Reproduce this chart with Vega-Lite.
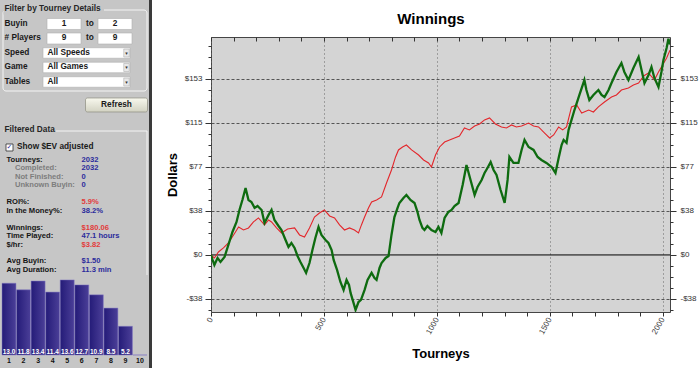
{
"$schema":"https://vega.github.io/schema/vega-lite/v6.json",
"padding":0,
"background":"#ffffff",
"bounds":"full",
"spacing":0,
"config":{"font":"Liberation Sans","concat":{"spacing":0},"axis":{"labelFont":"Liberation Sans","titleFont":"Liberation Sans"}},
"datasets":{
"filters":[
{"row":1,"label":"Buyin","kind":"range","low":"1","high":"2"},
{"row":2,"label":"# Players","kind":"range","low":"9","high":"9"},
{"row":3,"label":"Speed","kind":"choice","choice":"All Speeds"},
{"row":4,"label":"Game","kind":"choice","choice":"All Games"},
{"row":5,"label":"Tables","kind":"choice","choice":"All"}],
"stats":[
{"row":0,"label":"Tourneys:","value":"2032","level":1,"kind":"count"},
{"row":1,"label":"Completed:","value":"2032","level":2,"kind":"count"},
{"row":2,"label":"Not Finished:","value":"0","level":2,"kind":"count"},
{"row":3,"label":"Unknown Buyin:","value":"0","level":2,"kind":"count"},
{"row":5,"label":"ROI%:","value":"5.9%","level":1,"kind":"result"},
{"row":6,"label":"In the Money%:","value":"38.2%","level":1,"kind":"count"},
{"row":8,"label":"Winnings:","value":"$180.06","level":1,"kind":"result"},
{"row":9,"label":"Time Played:","value":"47.1 hours","level":1,"kind":"count"},
{"row":10,"label":"$/hr:","value":"$3.82","level":1,"kind":"result"},
{"row":12,"label":"Avg Buyin:","value":"$1.50","level":1,"kind":"count"},
{"row":13,"label":"Avg Duration:","value":"11.3 min","level":1,"kind":"count"}],
"finish":[
{"pos":1,"pct":13.0},{"pos":2,"pct":11.8},{"pos":3,"pct":13.4},{"pos":4,"pct":11.4},{"pos":5,"pct":13.6},
{"pos":6,"pct":12.7},{"pos":7,"pct":10.9},{"pos":8,"pct":8.5},{"pos":9,"pct":5.2},{"pos":10,"pct":0}],
"winnings":[
{"series":"EV","tourney":0,"dollars":0},{"series":"EV","tourney":15,"dollars":-2.6},{"series":"EV","tourney":33,"dollars":2.6},{"series":"EV","tourney":55,"dollars":6.1},{"series":"EV","tourney":77,"dollars":10.4},{"series":"EV","tourney":100,"dollars":17.4},{"series":"EV","tourney":122,"dollars":24.3},{"series":"EV","tourney":144,"dollars":21.7},{"series":"EV","tourney":166,"dollars":23.5},{"series":"EV","tourney":188,"dollars":28.7},{"series":"EV","tourney":210,"dollars":32.2},{"series":"EV","tourney":237,"dollars":26.1},{"series":"EV","tourney":255,"dollars":30.4},{"series":"EV","tourney":268,"dollars":28.7},{"series":"EV","tourney":290,"dollars":23.5},{"series":"EV","tourney":312,"dollars":19.1},{"series":"EV","tourney":339,"dollars":22.6},{"series":"EV","tourney":370,"dollars":23.5},{"series":"EV","tourney":392,"dollars":17.4},{"series":"EV","tourney":414,"dollars":15.6},{"series":"EV","tourney":436,"dollars":23.5},{"series":"EV","tourney":458,"dollars":33},{"series":"EV","tourney":480,"dollars":36.5},{"series":"EV","tourney":502,"dollars":39.1},{"series":"EV","tourney":525,"dollars":33.9},{"series":"EV","tourney":547,"dollars":32.2},{"series":"EV","tourney":569,"dollars":26.1},{"series":"EV","tourney":591,"dollars":21.7},{"series":"EV","tourney":613,"dollars":23.5},{"series":"EV","tourney":635,"dollars":21.7},{"series":"EV","tourney":653,"dollars":19.1},{"series":"EV","tourney":666,"dollars":26.1},{"series":"EV","tourney":680,"dollars":33},{"series":"EV","tourney":697,"dollars":40.9},{"series":"EV","tourney":711,"dollars":46.1},{"series":"EV","tourney":733,"dollars":47.8},{"series":"EV","tourney":755,"dollars":50.4},{"series":"EV","tourney":777,"dollars":62.6},{"series":"EV","tourney":799,"dollars":73.9},{"series":"EV","tourney":817,"dollars":85.2},{"series":"EV","tourney":830,"dollars":91.3},{"series":"EV","tourney":848,"dollars":93.9},{"series":"EV","tourney":865,"dollars":95.6},{"series":"EV","tourney":888,"dollars":91.3},{"series":"EV","tourney":919,"dollars":86.9},{"series":"EV","tourney":941,"dollars":82.6},{"series":"EV","tourney":963,"dollars":80},{"series":"EV","tourney":976,"dollars":76.5},{"series":"EV","tourney":994,"dollars":86.9},{"series":"EV","tourney":1012,"dollars":93.9},{"series":"EV","tourney":1034,"dollars":98.2},{"series":"EV","tourney":1056,"dollars":100},{"series":"EV","tourney":1078,"dollars":101.7},{"series":"EV","tourney":1100,"dollars":103.4},{"series":"EV","tourney":1122,"dollars":110.4},{"series":"EV","tourney":1144,"dollars":108.7},{"series":"EV","tourney":1167,"dollars":112.1},{"series":"EV","tourney":1189,"dollars":113.9},{"series":"EV","tourney":1211,"dollars":117.4},{"series":"EV","tourney":1233,"dollars":119.1},{"series":"EV","tourney":1259,"dollars":113.9},{"series":"EV","tourney":1286,"dollars":111.3},{"series":"EV","tourney":1308,"dollars":110.4},{"series":"EV","tourney":1330,"dollars":113},{"series":"EV","tourney":1352,"dollars":111.3},{"series":"EV","tourney":1375,"dollars":112.1},{"series":"EV","tourney":1406,"dollars":114.7},{"series":"EV","tourney":1428,"dollars":112.1},{"series":"EV","tourney":1450,"dollars":111.3},{"series":"EV","tourney":1477,"dollars":106},{"series":"EV","tourney":1499,"dollars":101.7},{"series":"EV","tourney":1517,"dollars":104.3},{"series":"EV","tourney":1539,"dollars":111.3},{"series":"EV","tourney":1557,"dollars":108.7},{"series":"EV","tourney":1574,"dollars":111.3},{"series":"EV","tourney":1596,"dollars":128.7},{"series":"EV","tourney":1619,"dollars":130.4},{"series":"EV","tourney":1641,"dollars":123.4},{"series":"EV","tourney":1672,"dollars":126},{"series":"EV","tourney":1693,"dollars":124.3},{"series":"EV","tourney":1715,"dollars":128.7},{"series":"EV","tourney":1742,"dollars":133},{"series":"EV","tourney":1773,"dollars":137.3},{"series":"EV","tourney":1795,"dollars":139.1},{"series":"EV","tourney":1817,"dollars":143.4},{"series":"EV","tourney":1848,"dollars":145.2},{"series":"EV","tourney":1870,"dollars":147.8},{"series":"EV","tourney":1893,"dollars":149.5},{"series":"EV","tourney":1915,"dollars":155.6},{"series":"EV","tourney":1937,"dollars":158.2},{"series":"EV","tourney":1963,"dollars":152.1},{"series":"EV","tourney":1981,"dollars":159.1},{"series":"EV","tourney":1994,"dollars":163.4},{"series":"EV","tourney":2017,"dollars":171.3},{"series":"EV","tourney":2032,"dollars":178},
{"series":"Actual","tourney":0,"dollars":0},{"series":"Actual","tourney":7,"dollars":-4.3},{"series":"Actual","tourney":15,"dollars":-8.7},{"series":"Actual","tourney":29,"dollars":-2.6},{"series":"Actual","tourney":42,"dollars":-6.1},{"series":"Actual","tourney":60,"dollars":-1.7},{"series":"Actual","tourney":77,"dollars":8.7},{"series":"Actual","tourney":95,"dollars":20},{"series":"Actual","tourney":113,"dollars":28.7},{"series":"Actual","tourney":126,"dollars":39.1},{"series":"Actual","tourney":139,"dollars":47.8},{"series":"Actual","tourney":153,"dollars":58.2},{"series":"Actual","tourney":166,"dollars":47.8},{"series":"Actual","tourney":179,"dollars":46.1},{"series":"Actual","tourney":193,"dollars":40.9},{"series":"Actual","tourney":206,"dollars":42.6},{"series":"Actual","tourney":224,"dollars":39.1},{"series":"Actual","tourney":237,"dollars":27.8},{"series":"Actual","tourney":255,"dollars":34.8},{"series":"Actual","tourney":268,"dollars":39.1},{"series":"Actual","tourney":281,"dollars":30.4},{"series":"Actual","tourney":299,"dollars":25.2},{"series":"Actual","tourney":312,"dollars":21.7},{"series":"Actual","tourney":330,"dollars":13},{"series":"Actual","tourney":343,"dollars":7},{"series":"Actual","tourney":356,"dollars":10.4},{"series":"Actual","tourney":370,"dollars":6.1},{"series":"Actual","tourney":383,"dollars":-0.9},{"series":"Actual","tourney":396,"dollars":-6.1},{"series":"Actual","tourney":410,"dollars":-11.3},{"series":"Actual","tourney":421,"dollars":-15.6},{"series":"Actual","tourney":436,"dollars":-7},{"series":"Actual","tourney":449,"dollars":4.3},{"series":"Actual","tourney":462,"dollars":14.8},{"series":"Actual","tourney":476,"dollars":24.3},{"series":"Actual","tourney":489,"dollars":17.4},{"series":"Actual","tourney":507,"dollars":13},{"series":"Actual","tourney":520,"dollars":10.4},{"series":"Actual","tourney":534,"dollars":4.3},{"series":"Actual","tourney":543,"dollars":-4.3},{"series":"Actual","tourney":558,"dollars":-13},{"series":"Actual","tourney":573,"dollars":-23.5},{"series":"Actual","tourney":587,"dollars":-30.4},{"series":"Actual","tourney":600,"dollars":-21.7},{"series":"Actual","tourney":611,"dollars":-26.1},{"series":"Actual","tourney":618,"dollars":-33},{"series":"Actual","tourney":631,"dollars":-41.7},{"series":"Actual","tourney":640,"dollars":-47.8},{"series":"Actual","tourney":653,"dollars":-40.9},{"series":"Actual","tourney":664,"dollars":-39.1},{"series":"Actual","tourney":680,"dollars":-30.4},{"series":"Actual","tourney":693,"dollars":-21.7},{"series":"Actual","tourney":711,"dollars":-15.6},{"series":"Actual","tourney":724,"dollars":-20},{"series":"Actual","tourney":733,"dollars":-21.7},{"series":"Actual","tourney":746,"dollars":-11.3},{"series":"Actual","tourney":755,"dollars":-7},{"series":"Actual","tourney":773,"dollars":-2.6},{"series":"Actual","tourney":786,"dollars":-0.9},{"series":"Actual","tourney":799,"dollars":17.4},{"series":"Actual","tourney":812,"dollars":33},{"series":"Actual","tourney":826,"dollars":40.9},{"series":"Actual","tourney":834,"dollars":45.2},{"series":"Actual","tourney":852,"dollars":49.6},{"series":"Actual","tourney":865,"dollars":52.2},{"series":"Actual","tourney":883,"dollars":47.8},{"series":"Actual","tourney":901,"dollars":45.2},{"series":"Actual","tourney":914,"dollars":37.4},{"series":"Actual","tourney":923,"dollars":30.4},{"series":"Actual","tourney":936,"dollars":23.5},{"series":"Actual","tourney":945,"dollars":21.7},{"series":"Actual","tourney":958,"dollars":25.2},{"series":"Actual","tourney":976,"dollars":21.7},{"series":"Actual","tourney":994,"dollars":20},{"series":"Actual","tourney":1007,"dollars":24.3},{"series":"Actual","tourney":1020,"dollars":19.1},{"series":"Actual","tourney":1034,"dollars":32.2},{"series":"Actual","tourney":1051,"dollars":37.4},{"series":"Actual","tourney":1065,"dollars":39.1},{"series":"Actual","tourney":1078,"dollars":42.6},{"series":"Actual","tourney":1096,"dollars":45.2},{"series":"Actual","tourney":1114,"dollars":60.9},{"series":"Actual","tourney":1131,"dollars":78.2},{"series":"Actual","tourney":1149,"dollars":65.2},{"series":"Actual","tourney":1167,"dollars":52.2},{"series":"Actual","tourney":1180,"dollars":59.1},{"series":"Actual","tourney":1198,"dollars":65.2},{"series":"Actual","tourney":1211,"dollars":71.3},{"series":"Actual","tourney":1224,"dollars":75.6},{"series":"Actual","tourney":1238,"dollars":80.8},{"series":"Actual","tourney":1251,"dollars":73.9},{"series":"Actual","tourney":1264,"dollars":69.5},{"series":"Actual","tourney":1282,"dollars":56.5},{"series":"Actual","tourney":1300,"dollars":45.2},{"series":"Actual","tourney":1313,"dollars":65.2},{"series":"Actual","tourney":1321,"dollars":85.2},{"series":"Actual","tourney":1339,"dollars":80},{"series":"Actual","tourney":1361,"dollars":80},{"series":"Actual","tourney":1375,"dollars":91.3},{"series":"Actual","tourney":1388,"dollars":100},{"series":"Actual","tourney":1406,"dollars":93.9},{"series":"Actual","tourney":1428,"dollars":91.3},{"series":"Actual","tourney":1446,"dollars":85.2},{"series":"Actual","tourney":1463,"dollars":82.6},{"series":"Actual","tourney":1485,"dollars":80},{"series":"Actual","tourney":1508,"dollars":76.5},{"series":"Actual","tourney":1525,"dollars":71.3},{"series":"Actual","tourney":1539,"dollars":84.3},{"series":"Actual","tourney":1552,"dollars":95.6},{"series":"Actual","tourney":1561,"dollars":100},{"series":"Actual","tourney":1574,"dollars":97.4},{"series":"Actual","tourney":1583,"dollars":108.7},{"series":"Actual","tourney":1596,"dollars":117.4},{"series":"Actual","tourney":1609,"dollars":126},{"series":"Actual","tourney":1631,"dollars":139.1},{"series":"Actual","tourney":1653,"dollars":152.1},{"series":"Actual","tourney":1662,"dollars":143.4},{"series":"Actual","tourney":1675,"dollars":134.7},{"series":"Actual","tourney":1693,"dollars":139.1},{"series":"Actual","tourney":1715,"dollars":143.4},{"series":"Actual","tourney":1729,"dollars":139.1},{"series":"Actual","tourney":1742,"dollars":137.3},{"series":"Actual","tourney":1760,"dollars":143.4},{"series":"Actual","tourney":1773,"dollars":149.5},{"series":"Actual","tourney":1795,"dollars":159.1},{"series":"Actual","tourney":1817,"dollars":166.9},{"series":"Actual","tourney":1830,"dollars":159.1},{"series":"Actual","tourney":1848,"dollars":152.1},{"series":"Actual","tourney":1870,"dollars":162.6},{"series":"Actual","tourney":1893,"dollars":172.1},{"series":"Actual","tourney":1906,"dollars":160.8},{"series":"Actual","tourney":1919,"dollars":149.5},{"series":"Actual","tourney":1937,"dollars":156.5},{"series":"Actual","tourney":1950,"dollars":163.4},{"series":"Actual","tourney":1963,"dollars":153.9},{"series":"Actual","tourney":1981,"dollars":146},{"series":"Actual","tourney":1994,"dollars":159.1},{"series":"Actual","tourney":2003,"dollars":169.5},{"series":"Actual","tourney":2017,"dollars":180},{"series":"Actual","tourney":2025,"dollars":188},{"series":"Actual","tourney":2032,"dollars":183}
]},
"hconcat":[
{"bounds":"flush","spacing":0,"vconcat":[
{"width":149,"height":117,"view":{"fill":"#c6c6c6","stroke":null},
"layer":[
{"data":{"values":[{}]},"mark":{"type":"rect","fillOpacity":0,"stroke":"#f4f4f4","strokeWidth":1,"cornerRadius":3},
"encoding":{"x":{"datum":3,"type":"quantitative","scale":{"domain":[0,149],"nice":false,"zero":false},"axis":null},"x2":{"datum":147},"y":{"datum":0.035,"type":"quantitative","scale":{"domain":[-0.655,7.414],"nice":false,"zero":false,"reverse":true},"axis":null},"y2":{"datum":5.621}}},
{"data":{"values":[{}]},"mark":{"type":"rect","color":"#c6c6c6"},
"encoding":{"x":{"datum":3.5,"type":"quantitative"},"x2":{"datum":104},"y":{"datum":-0.35,"type":"quantitative"},"y2":{"datum":0.35}}},
{"data":{"values":[{"t":"Filter by Tourney Details"}]},"mark":{"type":"text","align":"left","baseline":"middle","fontSize":8.3,"fontWeight":"bold","color":"#262626"},
"encoding":{"x":{"datum":4.5,"type":"quantitative"},"y":{"datum":0,"type":"quantitative"},"text":{"field":"t"}}},
{"data":{"name":"filters"},"mark":{"type":"text","align":"left","baseline":"middle","fontSize":8.3,"fontWeight":"bold","color":"#1a1a1a"},
"encoding":{"x":{"datum":4.5,"type":"quantitative"},"y":{"field":"row","type":"quantitative"},"text":{"field":"label"}}},
{"data":{"name":"filters"},"transform":[{"filter":"datum.kind==='range'"}],"mark":{"type":"tick","orient":"horizontal","size":34,"thickness":11,"color":"#ffffff","opacity":1,"stroke":"#b0b0b0","strokeWidth":0.6},
"encoding":{"x":{"datum":64,"type":"quantitative"},"y":{"field":"row","type":"quantitative"}}},
{"data":{"name":"filters"},"transform":[{"filter":"datum.kind==='range'"}],"mark":{"type":"tick","orient":"horizontal","size":34,"thickness":11,"color":"#ffffff","opacity":1,"stroke":"#b0b0b0","strokeWidth":0.6},
"encoding":{"x":{"datum":115,"type":"quantitative"},"y":{"field":"row","type":"quantitative"}}},
{"data":{"name":"filters"},"transform":[{"filter":"datum.kind==='range'"}],"mark":{"type":"text","align":"center","baseline":"middle","fontSize":8.3,"fontWeight":"bold","color":"#1a1a1a"},
"encoding":{"x":{"datum":64,"type":"quantitative"},"y":{"field":"row","type":"quantitative"},"text":{"field":"low"}}},
{"data":{"name":"filters"},"transform":[{"filter":"datum.kind==='range'"}],"mark":{"type":"text","align":"center","baseline":"middle","fontSize":8.3,"fontWeight":"bold","color":"#1a1a1a"},
"encoding":{"x":{"datum":115,"type":"quantitative"},"y":{"field":"row","type":"quantitative"},"text":{"field":"high"}}},
{"data":{"name":"filters"},"transform":[{"filter":"datum.kind==='range'"}],"mark":{"type":"text","align":"center","baseline":"middle","fontSize":8.3,"fontWeight":"bold","color":"#1a1a1a"},
"encoding":{"x":{"datum":90,"type":"quantitative"},"y":{"field":"row","type":"quantitative"},"text":{"value":"to"}}},
{"data":{"name":"filters"},"transform":[{"filter":"datum.kind==='choice'"}],"mark":{"type":"tick","orient":"horizontal","size":87,"thickness":10.5,"color":"#ffffff","opacity":1,"stroke":"#b0b0b0","strokeWidth":0.6},
"encoding":{"x":{"datum":86.5,"type":"quantitative"},"y":{"field":"row","type":"quantitative"}}},
{"data":{"name":"filters"},"transform":[{"filter":"datum.kind==='choice'"}],"mark":{"type":"tick","orient":"horizontal","size":5.5,"thickness":8,"color":"#e8e8e8","opacity":1,"stroke":"#a0a0a0","strokeWidth":0.5},
"encoding":{"x":{"datum":126.5,"type":"quantitative"},"y":{"field":"row","type":"quantitative"}}},
{"data":{"name":"filters"},"transform":[{"filter":"datum.kind==='choice'"}],"mark":{"type":"text","align":"center","baseline":"middle","font":"DejaVu Sans","fontSize":5,"color":"#333333"},
"encoding":{"x":{"datum":126.5,"type":"quantitative"},"y":{"field":"row","type":"quantitative"},"text":{"value":"▾"}}},
{"data":{"name":"filters"},"transform":[{"filter":"datum.kind==='choice'"}],"mark":{"type":"text","align":"left","baseline":"middle","fontSize":8.3,"fontWeight":"bold","color":"#1a1a1a"},
"encoding":{"x":{"datum":47.5,"type":"quantitative"},"y":{"field":"row","type":"quantitative"},"text":{"field":"choice"}}},
{"data":{"values":[{"t":"Refresh"}]},"mark":{"type":"tick","orient":"horizontal","size":62,"thickness":14,"opacity":1,"cornerRadius":2,"stroke":"#8c8c80","strokeWidth":0.7,"color":{"gradient":"linear","x1":0,"y1":0,"x2":0,"y2":1,"stops":[{"offset":0,"color":"#f8f8ee"},{"offset":1,"color":"#d2d2c2"}]}},
"encoding":{"x":{"datum":116.5,"type":"quantitative"},"y":{"datum":6.586,"type":"quantitative"}}},
{"data":{"values":[{"t":"Refresh"}]},"mark":{"type":"text","align":"center","baseline":"middle","fontSize":8.3,"fontWeight":"bold","color":"#1a1a1a"},
"encoding":{"x":{"datum":116.5,"type":"quantitative"},"y":{"datum":6.586,"type":"quantitative"},"text":{"field":"t"}}}
]},
{"width":149,"height":158,"view":{"fill":"#c6c6c6","stroke":null},
"layer":[
{"data":{"values":[{}]},"mark":{"type":"rule","color":"#f4f4f4","strokeWidth":1},
"encoding":{"x":{"datum":3,"type":"quantitative","scale":{"domain":[0,149],"nice":false,"zero":false},"axis":null},"x2":{"datum":147},"y":{"datum":-3.43,"type":"quantitative","scale":{"domain":[-5.089,13.609],"nice":false,"zero":false,"reverse":true},"axis":null}}},
{"data":{"values":[{}]},"mark":{"type":"rule","color":"#f4f4f4","strokeWidth":1},
"encoding":{"x":{"datum":147,"type":"quantitative"},"y":{"datum":-3.43,"type":"quantitative"},"y2":{"datum":13.609}}},
{"data":{"values":[{}]},"mark":{"type":"rect","color":"#c6c6c6"},
"encoding":{"x":{"datum":3.5,"type":"quantitative"},"x2":{"datum":56},"y":{"datum":-4.1,"type":"quantitative"},"y2":{"datum":-3.0}}},
{"data":{"values":[{"t":"Filtered Data"}]},"mark":{"type":"text","align":"left","baseline":"middle","fontSize":8.3,"fontWeight":"bold","color":"#262626"},
"encoding":{"x":{"datum":4.5,"type":"quantitative"},"y":{"datum":-3.55,"type":"quantitative"},"text":{"field":"t"}}},
{"data":{"values":[{"t":"Show $EV adjusted"}]},"mark":{"type":"tick","orient":"horizontal","size":7,"thickness":7,"color":"#ffffff","opacity":1,"stroke":"#303030","strokeWidth":0.8},
"encoding":{"x":{"datum":9.5,"type":"quantitative"},"y":{"datum":-1.48,"type":"quantitative"}}},
{"data":{"values":[{"t":"✓"}]},"mark":{"type":"text","align":"center","baseline":"middle","font":"DejaVu Sans","fontSize":7,"fontWeight":"bold","color":"#3232a0"},
"encoding":{"x":{"datum":9.5,"type":"quantitative"},"y":{"datum":-1.48,"type":"quantitative"},"text":{"field":"t"}}},
{"data":{"values":[{"t":"Show $EV adjusted"}]},"mark":{"type":"text","align":"left","baseline":"middle","fontSize":8.3,"fontWeight":"bold","color":"#1a1a1a"},
"encoding":{"x":{"datum":17,"type":"quantitative"},"y":{"datum":-1.48,"type":"quantitative"},"text":{"field":"t"}}},
{"data":{"name":"stats"},"transform":[{"filter":"datum.level===1"}],"mark":{"type":"text","align":"left","baseline":"middle","fontSize":7.6,"fontWeight":"bold","color":"#151515"},
"encoding":{"x":{"datum":6.5,"type":"quantitative"},"y":{"field":"row","type":"quantitative"},"text":{"field":"label"}}},
{"data":{"name":"stats"},"transform":[{"filter":"datum.level===2"}],"mark":{"type":"text","align":"left","baseline":"middle","fontSize":7.6,"fontWeight":"bold","color":"#7d7d7d"},
"encoding":{"x":{"datum":15,"type":"quantitative"},"y":{"field":"row","type":"quantitative"},"text":{"field":"label"}}},
{"data":{"name":"stats"},"transform":[{"filter":"datum.kind==='count'"}],"mark":{"type":"text","align":"left","baseline":"middle","fontSize":7.6,"fontWeight":"bold","color":"#2c2c9c"},
"encoding":{"x":{"datum":81.5,"type":"quantitative"},"y":{"field":"row","type":"quantitative"},"text":{"field":"value"}}},
{"data":{"name":"stats"},"transform":[{"filter":"datum.kind==='result'"}],"mark":{"type":"text","align":"left","baseline":"middle","fontSize":7.6,"fontWeight":"bold","color":"#e23b3b"},
"encoding":{"x":{"datum":81.5,"type":"quantitative"},"y":{"field":"row","type":"quantitative"},"text":{"field":"value"}}}
]},
{"width":149,"height":93,"view":{"fill":"#c6c6c6","stroke":null},
"data":{"name":"finish"},
"encoding":{"x":{"field":"pos","type":"ordinal","sort":null,"scale":{"type":"band","range":[2,147],"paddingInner":0.04,"paddingOuter":0},"axis":null}},
"layer":[
{"mark":{"type":"bar","stroke":"#8078c2","strokeWidth":0.5,"color":{"gradient":"linear","x1":0,"y1":0,"x2":1,"y2":0,"stops":[{"offset":0,"color":"#241b78"},{"offset":1,"color":"#4b3f98"}]}},
"encoding":{"y":{"field":"pct","type":"quantitative","scale":{"domain":[-2.355,14.49],"nice":false,"zero":false},"axis":null},"y2":{"datum":0}}},
{"transform":[{"filter":"datum.pct>0"}],"mark":{"type":"text","align":"center","baseline":"middle","fontSize":6.5,"fontWeight":"bold","color":"#ffffff"},
"encoding":{"y":{"datum":0.6,"type":"quantitative"},"text":{"field":"pct","type":"quantitative","format":".1f"}}},
{"mark":{"type":"text","align":"center","baseline":"middle","fontSize":7,"fontWeight":"bold","color":"#111111"},
"encoding":{"y":{"datum":-1.09,"type":"quantitative"},"text":{"field":"pos","type":"ordinal"}}}
]}
]},
{"width":3,"height":368,"view":{"fill":"#3a3a3a","stroke":null},"data":{"values":[{}]},"mark":{"type":"text"},"encoding":{"text":{"value":""}}},
{"width":13,"height":368,"view":{"stroke":null},"data":{"values":[{}]},"mark":{"type":"text"},"encoding":{"text":{"value":""}}},
{"bounds":"flush","spacing":0,"vconcat":[
{"width":459,"height":37,"view":{"stroke":null},"data":{"values":[{"t":"Winnings"}]},
"mark":{"type":"text","fontSize":15,"fontWeight":"bold","font":"Liberation Sans","dx":-9.5,"baseline":"middle","align":"center","color":"#000000"},
"encoding":{"text":{"field":"t"}}},
{"width":459,"height":275,"view":{"fill":"#d4d4d4","stroke":"#454545"},
"data":{"name":"winnings"},
"layer":[
{"data":{"values":[{}]},"mark":{"type":"rule","color":"#000000","strokeWidth":1},
"encoding":{"y":{"datum":0,"type":"quantitative","axis":null}}},
{"transform":[{"filter":"datum.series==='EV'"}],"mark":{"type":"line","color":"#e3262b","strokeWidth":1.1,"clip":true},
"encoding":{
"x":{"field":"tourney","type":"quantitative","scale":{"domain":[0,2032],"nice":false,"zero":false},
"axis":{"orient":"bottom","values":[0,100,200,300,400,500,600,700,800,900,1000,1100,1200,1300,1400,1500,1600,1700,1800,1900,2000],"format":"d","labelExpr":"datum.value % 500 === 0 ? datum.label : ''","labelAngle":-60,"labelFontSize":8,"labelColor":"#444444","labelPadding":2,"tickSize":4,"tickColor":"#333333","domain":false,"grid":true,"gridColor":"#666666","gridDash":[1,3],"gridOpacity":{"condition":{"test":"datum.value % 500 === 0","value":1},"value":0},"title":"Tourneys","titleFontSize":13,"titleFontWeight":"bold","titleColor":"#000000","titlePadding":12}},
"y":{"field":"dollars","type":"quantitative","scale":{"domain":[-49.6,189.5],"nice":false,"zero":false},
"axis":{"orient":"left","values":[-47.8125,-38.25,-28.6875,-19.125,-9.5625,0,9.5625,19.125,28.6875,38.25,47.8125,57.375,66.9375,76.5,86.0625,95.625,105.1875,114.75,124.3125,133.875,143.4375,153,162.5625,172.125,181.6875],"labelExpr":"abs(datum.value/38.25-round(datum.value/38.25))<0.001 ? (datum.value<0?'-$':'$')+format(abs(datum.value),'.0f') : ''","labelFontSize":8,"labelColor":"#333333","labelPadding":3,"tickColor":"#333333","tickSize":{"condition":{"test":"abs(datum.value/38.25-round(datum.value/38.25))<0.001","value":6},"value":3},"domain":false,"grid":true,"gridColor":"#555555","gridDash":[3,2],"gridOpacity":{"condition":{"test":"abs(datum.value/38.25-round(datum.value/38.25))<0.001 && datum.value != 0","value":1},"value":0},"title":"Dollars","titleFontSize":13,"titleFontWeight":"bold","titleColor":"#000000","titlePadding":5}}}},
{"transform":[{"filter":"datum.series==='Actual'"}],"mark":{"type":"line","color":"#0e6b10","strokeWidth":2.3,"clip":true},
"encoding":{
"x":{"field":"tourney","type":"quantitative","axis":{"orient":"top","values":[0,100,200,300,400,500,600,700,800,900,1000,1100,1200,1300,1400,1500,1600,1700,1800,1900,2000],"labels":false,"tickSize":-4,"tickColor":"#333333","domain":false,"grid":false,"title":null}},
"y":{"field":"dollars","type":"quantitative","axis":{"orient":"right","values":[-47.8125,-38.25,-28.6875,-19.125,-9.5625,0,9.5625,19.125,28.6875,38.25,47.8125,57.375,66.9375,76.5,86.0625,95.625,105.1875,114.75,124.3125,133.875,143.4375,153,162.5625,172.125,181.6875],"labelExpr":"abs(datum.value/38.25-round(datum.value/38.25))<0.001 ? (datum.value<0?'-$':'$')+format(abs(datum.value),'.0f') : ''","labelFontSize":8,"labelColor":"#333333","labelPadding":4,"tickColor":"#333333","tickSize":{"condition":{"test":"abs(datum.value/38.25-round(datum.value/38.25))<0.001","value":6},"value":3},"domain":false,"grid":false,"title":null}}}}
],
"resolve":{"axis":{"x":"independent","y":"independent"}}}
]}
]
}
